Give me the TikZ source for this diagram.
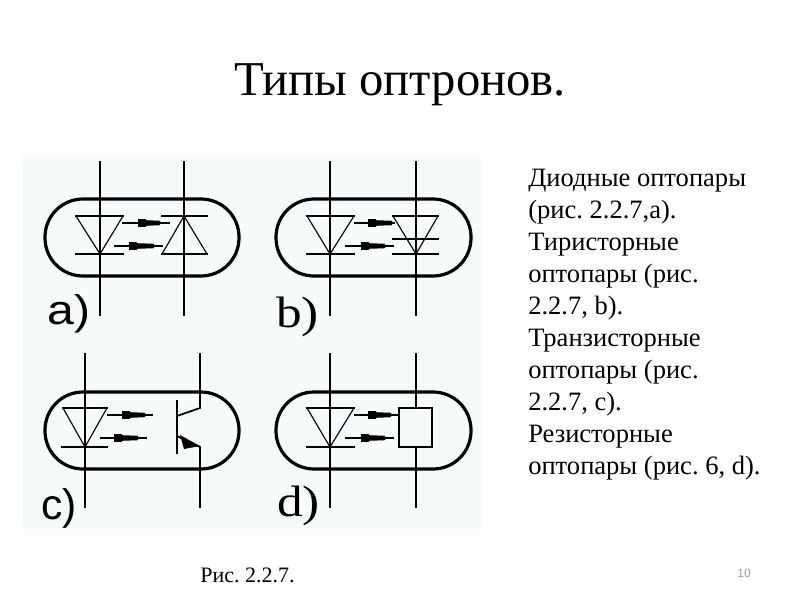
\documentclass[tikz,border=0pt]{standalone}
\usepackage{fontspec}
\usepackage{graphicx}
\setmainfont{Liberation Serif}
\newfontfamily\labsans{Liberation Sans}
\definecolor{panelbg}{HTML}{F8FCF8}
\definecolor{pagenum}{HTML}{A0A0A0}
\newcommand{\optbeam}[5]{%
  \draw[wire] (#2,#1) -- (#5,#1);
  \fill[black] (#3,#1-4) rectangle (#3+8,#1+4);
  \fill[black] (#3+8,#1-2.8) -- (#4,#1-2.2) -- (#4,#1+2.2) -- (#3+8,#1+2.8) -- cycle;
}
\newcommand{\widetag}[1]{\scalebox{1.13}[0.97]{#1}}
\tikzset{
  wire/.style={line width=1.3pt,black},
  thinwire/.style={line width=0.85pt,black},
  capsule/.style={line width=2.4pt,black,rounded corners=28.5pt},
  titletext/.style={anchor=base,font=\fontsize{36.5}{36.5}\selectfont,inner sep=0},
  bodytext/.style={anchor=base west,font=\fontsize{19.9}{20}\selectfont,inner sep=0},
  captext/.style={anchor=base,font=\fontsize{16.5}{16.5}\selectfont,inner sep=0},
  numtext/.style={anchor=base,font=\labsans\fontsize{9}{9}\selectfont,text=pagenum,inner sep=0},
  tagsans/.style={anchor=base west,font=\labsans\fontsize{32}{32}\selectfont,inner sep=0},
  tagserif/.style={anchor=base west,font=\fontsize{34}{34}\selectfont,inner sep=0}
}
\begin{document}
\frenchspacing
\begin{tikzpicture}[x=0.75pt,y=-0.75pt]
\useasboundingbox (0,0) rectangle (800,600);
\fill[white] (0,0) rectangle (800,600);
\fill[panelbg] (22,155) rectangle (481,535);

% a
\draw[thinwire] (100,161) -- (100,316);
\draw[thinwire] (184,161) -- (184,316);
\draw[capsule] (45,199) rectangle (239,276);
\draw[thinwire] (76,216) -- (100,254) -- (123,216);
\draw[wire] (75,216) -- (124,216);
\draw[thinwire] (75,254) -- (124,254);
\draw[thinwire] (162,254) -- (184,216) -- (207,254);
\draw[wire] (161,216) -- (208,216);
\draw[thinwire] (161,254) -- (208,254);
\optbeam{223}{122}{138}{160}{170}
\optbeam{246}{114}{129}{154}{163}
\node[tagsans] (taga) at (47,324) {\widetag{a)}};

% b
\draw[wire] (330,161) -- (330,316);
\draw[wire] (416,161) -- (416,316);
\draw[capsule] (276,199) rectangle (471,276);
\draw[thinwire] (307,216) -- (330,254) -- (354,216);
\draw[wire] (306,216) -- (355,216);
\draw[thinwire] (306,254) -- (355,254);
\draw[thinwire] (393,216) -- (416,254) -- (438,216);
\draw[wire] (392,216) -- (439,216);
\draw[wire] (392,239) -- (439,239);
\draw[thinwire] (392,254) -- (439,254);
\optbeam{223}{354}{368}{392}{395}
\optbeam{246}{345}{361}{385}{394}
\node[tagserif] (tagb) at (276,327) {\widetag{b)}};

% c
\draw[wire] (85,353) -- (85,508);
\draw[capsule] (45,392) rectangle (239,469);
\draw[wire] (200,353) -- (200,408) -- (177,416);
\draw[wire] (177,436) -- (200,447) -- (200,508);
\fill[black] (180,435) -- (200,446) -- (184,449) -- cycle;
\draw[thinwire] (177,400) -- (177,454);
\draw[thinwire] (63,408) -- (85,447) -- (107,408);
\draw[thinwire] (62,408) -- (108,408);
\draw[wire] (61,447) -- (108,447);
\optbeam{415}{107}{122}{145}{153}
\optbeam{438}{100}{114}{138}{147}
\node[tagsans] (tagc) at (41,519) {c)};

% d
\draw[wire] (330,353) -- (330,508);
\draw[wire] (416,353) -- (416,508);
\draw[capsule] (276,392) rectangle (471,469);
\draw[thinwire] (307,408) -- (330,447) -- (354,408);
\draw[thinwire] (306,408) -- (355,408);
\draw[wire] (306,447) -- (355,447);
\node[draw=black,line width=1pt,fill=panelbg,minimum width=24.75pt,minimum height=29.25pt,inner sep=0] (rbox) at (415.5,427.5) {};
\optbeam{415}{354}{368}{391}{399}
\optbeam{438}{345}{361}{385}{394}
\node[tagserif] (tagd) at (277,516) {\widetag{d)}};

% text
\node[titletext] (title) at (400,95) {Типы оптронов.};
\node[bodytext] (l1) at (528,186) {Диодные оптопары};
\node[bodytext] (l2) at (528,218) {(рис. 2.2.7,a).};
\node[bodytext] (l3) at (528,250) {Тиристорные};
\node[bodytext] (l4) at (528,282) {оптопары (рис.};
\node[bodytext] (l5) at (528,314) {2.2.7, b).};
\node[bodytext] (l6) at (528,346) {Транзисторные};
\node[bodytext] (l7) at (528,378) {оптопары (рис.};
\node[bodytext] (l8) at (528,410) {2.2.7, c).};
\node[bodytext] (l9) at (528,442) {Резисторные};
\node[bodytext] (l10) at (528,474) {оптопары (рис. 6, d).};
\node[captext] (cap) at (247.5,582) {Рис. 2.2.7.};
\node[numtext] (num) at (744,577) {10};
\end{tikzpicture}
\end{document}
